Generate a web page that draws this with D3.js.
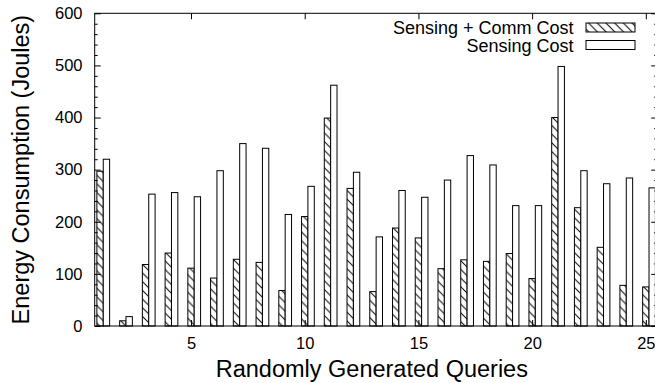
<!DOCTYPE html>
<html>
<head>
<meta charset="utf-8">
<script src="https://cdn.jsdelivr.net/npm/d3@7/dist/d3.min.js"></script>
<style>
  html, body { margin: 0; padding: 0; background: #fff; }
  svg { display: block; font-family: "Liberation Sans", Arial, Helvetica, sans-serif; }
</style>
</head>
<body>
<svg id="chart" width="655" height="383"></svg>
<script>
const queries = [1,2,3,4,5,6,7,8,9,10,11,12,13,14,15,16,17,18,19,20,21,22,23,24,25];
const sensingCommCost = [297, 10, 118, 140, 111, 92, 128, 122, 68, 210, 399, 264, 66, 188, 169, 110, 127, 124, 139, 91, 400, 227, 151, 78, 75];
const sensingCost = [320, 18, 253, 256, 248, 298, 350, 341, 214, 268, 462, 295, 171, 260, 247, 280, 327, 309, 231, 231, 498, 298, 273, 284, 265];
const seriesNames = ["Sensing + Comm Cost", "Sensing Cost"];
const xTicks = [5, 10, 15, 20, 25];
const yTicks = [0, 100, 200, 300, 400, 500, 600];
const xTitle = "Randomly Generated Queries";
const yTitle = "Energy Consumption (Joules)";

const svg = d3.select("#chart");
const L = 94.7, T = 13.3, B = 326, R = 657.2;

const x = d3.scaleLinear().domain([0.764, 25.5]).range([L, R]);
const y = d3.scaleLinear().domain([0, 600]).range([B, T]);
const halfW = 0.14;

// hatch pattern
const defs = svg.append("defs");
const s = 8.7;
const pat = defs.append("pattern")
  .attr("id", "hatch").attr("patternUnits", "userSpaceOnUse")
  .attr("width", s).attr("height", s);
pat.append("rect").attr("width", s).attr("height", s).attr("fill", "#fff");
pat.append("path")
  .attr("d", `M${-s},0 L${s},${2*s} M0,${-s} L${2*s},${s} M${-s},${-s} L${2*s},${2*s}`)
  .attr("stroke", "#000").attr("stroke-width", 1);

const fs = "16.5px";

// bars
const g = svg.append("g");
g.selectAll("rect.hc").data(queries).join("rect")
  .attr("class", "hc")
  .attr("x", (d) => x(d - halfW))
  .attr("width", (d) => x(d + halfW) - x(d - halfW))
  .attr("y", (d, i) => y(sensingCommCost[i]))
  .attr("height", (d, i) => y(0) - y(sensingCommCost[i]))
  .attr("fill", "url(#hatch)").attr("stroke", "#000").attr("stroke-width", 1);
g.selectAll("rect.sc").data(queries).join("rect")
  .attr("class", "sc")
  .attr("x", (d) => x(d + halfW))
  .attr("width", (d) => x(d + 3*halfW) - x(d + halfW))
  .attr("y", (d, i) => y(sensingCost[i]))
  .attr("height", (d, i) => y(0) - y(sensingCost[i]))
  .attr("fill", "#fff").attr("stroke", "#000").attr("stroke-width", 1);

// axes
const minorY = d3.range(0, 601, 20).filter(v => v % 100 !== 0);
function styleAxis(sel) {
  sel.select(".domain").remove();
  sel.selectAll("line").attr("stroke", "#000").attr("stroke-width", 1);
  sel.selectAll("text").attr("fill", "#000").style("font-size", fs)
    .style("font-family", '"Liberation Sans", Arial, sans-serif');
}
svg.append("g").attr("transform", `translate(${L},0)`)
  .call(d3.axisLeft(y).tickValues(yTicks).tickSizeInner(-6).tickSizeOuter(0).tickPadding(12.2))
  .call(styleAxis);
svg.append("g").attr("transform", `translate(${L},0)`)
  .call(d3.axisLeft(y).tickValues(minorY).tickSizeInner(-3).tickSizeOuter(0).tickFormat(""))
  .call(styleAxis);
svg.append("g").attr("transform", `translate(${R},0)`)
  .call(d3.axisRight(y).tickValues(yTicks).tickSizeInner(-6).tickSizeOuter(0).tickFormat(""))
  .call(styleAxis);
svg.append("g").attr("transform", `translate(${R},0)`)
  .call(d3.axisRight(y).tickValues(minorY).tickSizeInner(-3).tickSizeOuter(0).tickFormat(""))
  .call(styleAxis);
svg.append("g").attr("transform", `translate(0,${B})`)
  .call(d3.axisBottom(x).tickValues(xTicks).tickSizeInner(-6).tickSizeOuter(0).tickPadding(11.6))
  .call(styleAxis);
svg.append("g").attr("transform", `translate(0,${T})`)
  .call(d3.axisTop(x).tickValues(xTicks).tickSizeInner(-6).tickSizeOuter(0).tickFormat(""))
  .call(styleAxis);

// frame
svg.append("rect").attr("x", L).attr("y", T).attr("width", R - L).attr("height", B - T)
  .attr("fill", "none").attr("stroke", "#000").attr("stroke-width", 1);

// titles
svg.append("text").attr("x", (L + 655) / 2 - 3).attr("y", 377)
  .attr("text-anchor", "middle").style("font-size", "23.5px").text(xTitle);
svg.append("text").attr("transform", `translate(29,${(T + B) / 2}) rotate(-90)`)
  .attr("text-anchor", "middle").style("font-size", "23.5px").text(yTitle);

// legend
const lg = svg.append("g");
const rows = [
  {name: seriesNames[0], fill: "url(#hatch)", y: 23},
  {name: seriesNames[1], fill: "#fff", y: 40.5}
];
rows.forEach((r) => {
  lg.append("text").attr("x", 573.5).attr("y", r.y + 11).attr("text-anchor", "end")
    .style("font-size", "18px").text(r.name);
  lg.append("rect").attr("x", 586).attr("y", r.y).attr("width", 49).attr("height", 9)
    .attr("fill", r.fill).attr("stroke", "#000").attr("stroke-width", 1);
});
</script>
</body>
</html>
